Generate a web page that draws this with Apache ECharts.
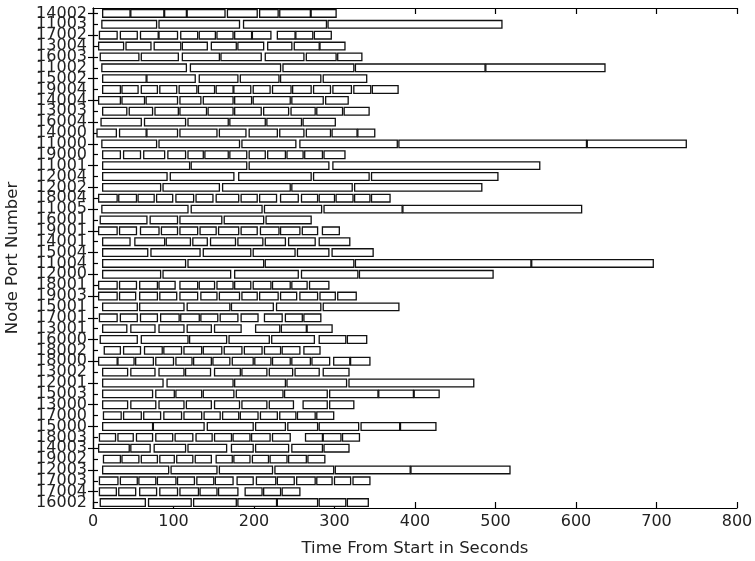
<!DOCTYPE html>
<html>
<head>
<meta charset="utf-8">
<script src="https://cdn.jsdelivr.net/npm/echarts@6/dist/echarts.min.js"></script>
<style>
html,body{margin:0;padding:0;background:#fff;}
#chart{width:755px;height:561px;}
</style>
</head>
<body>
<div id="chart"></div>
<script>
// Rows listed top to bottom as shown in the chart
const nodePorts = ['14002','11003','17002','13004','16003','11002','15002','19004','14004','13003','16004','14000','11000','19000','11001','12004','12002','18004','11005','16001','19001','14001','15004','11004','12000','18001','19003','15001','17001','13001','16000','18002','18000','13002','12001','15003','13000','17000','15000','18003','14003','19002','12003','17003','17004','16002'];

const xTicks = [0, 100, 200, 300, 400, 500, 600, 700, 800];

// [start, end] in seconds for each task segment, one list per row (same order as nodePorts)
const rowSegments = [
  [[12,46],[47,88],[89,116],[117,164],[167,204],[207,230],[232,270],[271,302]],
  [[11,79],[82,182],[187,290],[292,508]],
  [[8,30],[34,55],[59,81],[82,105],[109,130],[132,152],[154,174],[176,197],[198,221],[229,251],[252,273],[275,296]],
  [[7,38],[41,72],[76,109],[111,142],[147,178],[180,212],[217,247],[250,281],[282,313]],
  [[9,57],[60,106],[111,157],[159,209],[214,262],[265,302],[304,334]],
  [[11,116],[121,233],[236,324],[326,487],[488,636]],
  [[12,66],[67,127],[132,180],[183,231],[233,283],[286,340]],
  [[12,34],[36,56],[60,80],[83,104],[107,129],[131,151],[153,174],[175,196],[199,220],[223,246],[248,271],[274,295],[298,321],[324,345],[347,379]],
  [[7,34],[36,64],[66,105],[108,134],[137,174],[176,197],[199,245],[247,286],[289,317]],
  [[12,42],[45,74],[77,106],[108,141],[143,174],[176,209],[212,243],[246,276],[278,310],[312,343]],
  [[10,60],[64,115],[118,168],[170,214],[216,259],[261,301]],
  [[5,29],[33,66],[67,105],[108,154],[157,190],[194,229],[232,262],[265,295],[297,328],[329,350]],
  [[11,79],[82,182],[185,252],[257,378],[380,613],[614,737]],
  [[12,34],[38,59],[63,89],[93,115],[118,137],[139,168],[170,191],[194,214],[217,239],[241,261],[263,285],[287,313]],
  [[12,120],[122,191],[194,293],[298,555]],
  [[12,92],[96,175],[181,271],[274,343],[346,503]],
  [[12,84],[87,157],[161,245],[247,322],[325,483]],
  [[7,30],[32,54],[56,76],[79,99],[103,125],[128,149],[153,181],[184,204],[207,228],[233,255],[259,279],[281,300],[302,323],[325,344],[346,369]],
  [[11,118],[122,210],[213,284],[287,384],[385,607]],
  [[9,67],[71,105],[108,160],[163,212],[215,271]],
  [[7,30],[33,54],[59,82],[85,105],[108,130],[133,153],[156,181],[184,204],[208,231],[233,257],[260,279],[285,306]],
  [[12,46],[52,89],[91,121],[124,142],[146,177],[180,211],[214,239],[243,276],[281,319]],
  [[12,68],[72,133],[137,196],[199,251],[254,293],[297,348]],
  [[12,115],[118,212],[214,324],[326,544],[545,696]],
  [[12,84],[87,171],[176,255],[259,329],[331,497]],
  [[7,30],[33,54],[58,80],[82,102],[108,130],[132,151],[154,174],[176,196],[199,221],[223,245],[247,266],[269,293]],
  [[7,30],[33,53],[58,80],[83,104],[108,130],[134,154],[157,182],[185,204],[207,230],[233,253],[257,279],[282,301],[304,327]],
  [[12,55],[58,113],[117,170],[172,224],[228,283],[286,380]],
  [[8,30],[34,55],[59,80],[84,107],[109,132],[134,155],[158,180],[184,205],[213,235],[239,260],[262,283]],
  [[12,42],[47,77],[82,113],[117,147],[151,184],[202,232],[234,265],[266,297]],
  [[9,55],[60,118],[120,166],[169,219],[222,275],[281,314],[316,340]],
  [[14,34],[38,59],[64,86],[88,110],[113,135],[137,160],[163,185],[188,210],[213,233],[235,257],[262,282]],
  [[7,30],[31,51],[53,75],[78,100],[103,123],[125,147],[149,170],[173,199],[201,221],[223,245],[247,270],[272,294],[299,319],[320,344]],
  [[12,43],[47,77],[82,113],[115,146],[151,183],[185,216],[219,248],[251,281],[286,318]],
  [[12,87],[92,174],[176,239],[241,315],[318,473]],
  [[12,74],[78,101],[103,135],[137,175],[178,236],[238,291],[294,354],[355,398],[399,430]],
  [[12,43],[47,78],[82,113],[116,147],[151,182],[185,216],[219,249],[261,291],[294,324]],
  [[13,35],[38,60],[63,84],[88,110],[113,135],[138,158],[161,181],[183,205],[208,229],[232,252],[254,276],[278,299]],
  [[12,74],[75,138],[142,199],[202,239],[242,279],[281,330],[333,381],[382,426]],
  [[8,28],[31,50],[54,74],[78,99],[102,124],[128,148],[151,172],[174,195],[197,220],[223,245],[264,285],[286,308],[310,331]],
  [[7,45],[47,71],[76,115],[118,166],[172,199],[202,243],[247,285],[287,318]],
  [[13,34],[36,57],[60,80],[83,101],[104,124],[127,147],[153,173],[175,195],[198,218],[220,241],[243,265],[267,288]],
  [[12,94],[97,154],[157,223],[226,299],[301,394],[395,518]],
  [[8,31],[34,55],[57,78],[80,103],[105,126],[129,150],[152,174],[179,199],[203,227],[229,250],[253,276],[278,297],[300,320],[323,344]],
  [[8,29],[32,53],[58,79],[83,105],[108,131],[133,154],[156,180],[189,210],[212,233],[235,257]],
  [[9,65],[69,122],[125,178],[180,228],[229,279],[281,314],[316,342]]
];

const data = [];
rowSegments.forEach((segs, row) => {
  segs.forEach(s => data.push([s[0], s[1], row]));
});

const FONT = 'DejaVu Sans';
const chart = echarts.init(document.getElementById('chart'), null, {renderer: 'canvas'});
const lineStyle = {color: '#000', width: 1.2};

chart.setOption({
  animation: false,
  backgroundColor: '#fff',
  grid: {left: 93, right: 18, top: 8, bottom: 53, containLabel: false, outerBoundsMode: 'none'},
  xAxis: [{
    type: 'value', min: xTicks[0], max: xTicks[xTicks.length - 1], interval: 100,
    position: 'bottom',
    name: 'Time From Start in Seconds', nameLocation: 'middle', nameGap: 32,
    nameTextStyle: {fontFamily: FONT, fontSize: 16.5, color: '#222'},
    axisLine: {show: true, lineStyle},
    axisTick: {show: true, inside: true, length: 6, lineStyle},
    axisLabel: {fontFamily: FONT, fontSize: 16, color: '#222', margin: 6},
    splitLine: {show: false}
  }, {
    type: 'value', min: xTicks[0], max: xTicks[xTicks.length - 1], interval: 100,
    position: 'top',
    axisLine: {show: true, lineStyle},
    axisTick: {show: true, inside: true, length: 6, lineStyle},
    axisLabel: {show: false},
    splitLine: {show: false}
  }],
  yAxis: [{
    type: 'category', data: nodePorts, inverse: true, position: 'left',
    name: 'Node Port Number', nameLocation: 'middle', nameGap: 72,
    nameTextStyle: {fontFamily: FONT, fontSize: 16.5, color: '#222'},
    axisLine: {show: true, lineStyle},
    axisTick: {show: true, inside: true, length: 5, alignWithLabel: true, lineStyle},
    axisLabel: {fontFamily: FONT, fontSize: 16, color: '#222', margin: 6, interval: 0},
    splitLine: {show: false}
  }, {
    type: 'category', data: nodePorts, inverse: true, position: 'right',
    axisLine: {show: true, lineStyle},
    axisTick: {show: true, inside: true, length: 5, alignWithLabel: true, lineStyle},
    axisLabel: {show: false},
    splitLine: {show: false}
  }],
  series: [{
    type: 'custom',
    xAxisIndex: 0, yAxisIndex: 0,
    encode: {x: [0, 1], y: 2},
    data: data,
    renderItem: function (params, api) {
      const row = api.value(2);
      const p0 = api.coord([api.value(0), row]);
      const p1 = api.coord([api.value(1), row]);
      const h = api.size([0, 1])[1] * 0.7;
      return {
        type: 'rect',
        shape: {x: p0[0], y: p0[1] - h / 2, width: p1[0] - p0[0], height: h},
        style: {fill: '#fff', stroke: '#111', lineWidth: 1.3}
      };
    }
  }]
});
</script>
</body>
</html>
